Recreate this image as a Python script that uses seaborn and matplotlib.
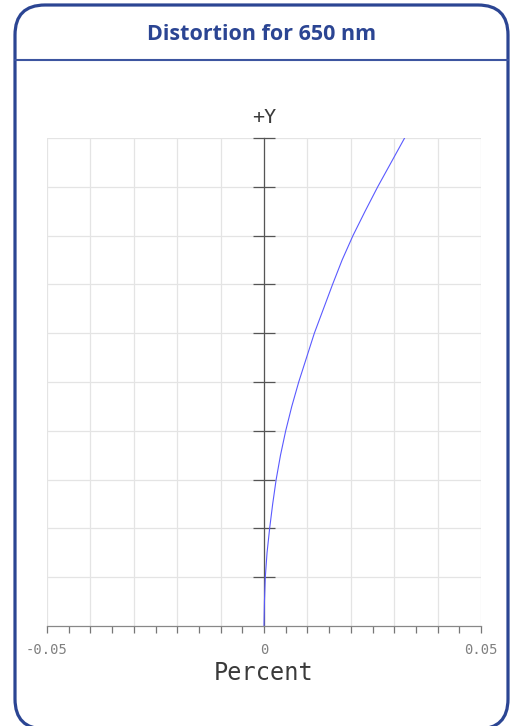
import numpy as np
import pandas as pd
import matplotlib
matplotlib.use("Agg")
import matplotlib.pyplot as plt
import seaborn as sns
from matplotlib.patches import FancyBboxPatch

# 650 nm 왜곡 곡선
field = [0.0, 0.05, 0.1, 0.15, 0.2, 0.25, 0.3, 0.35, 0.4, 0.45, 0.5, 0.55,
         0.6, 0.65, 0.7, 0.75, 0.8, 0.85, 0.9, 0.95, 1.0]
distortion = [0.0, 0.0001, 0.0003, 0.0007, 0.0013, 0.0020, 0.0028, 0.0038,
              0.0050, 0.0064, 0.0080, 0.0098, 0.0116, 0.0137, 0.0158, 0.0180,
              0.0205, 0.0233, 0.0262, 0.0293, 0.0324]

x_major = [-0.05, -0.04, -0.03, -0.02, -0.01, 0.0, 0.01, 0.02, 0.03, 0.04, 0.05]
x_labels = ['-0.05', '', '', '', '', '0', '', '', '', '', '0.05']
x_minor = [-0.045, -0.035, -0.025, -0.015, -0.005, 0.005, 0.015, 0.025, 0.035, 0.045]
y_major = [0.1, 0.2, 0.3, 0.4, 0.5, 0.6, 0.7, 0.8, 0.9, 1.0]

title = 'Distortion for 650 nm'
blue = '#2b4593'
mono = ['DejaVu Sans Mono']

df = pd.DataFrame({'distortion': distortion, 'field': field})

sns.set_style('white')
fig = plt.figure(figsize=(5.14, 7.26), dpi=100)

# 테두리 + 제목 (픽셀 좌표, 아래가 0)
bg = fig.add_axes([0, 0, 1, 1])
bg.set_xlim(0, 514)
bg.set_ylim(0, 726)
bg.axis('off')
bg.add_patch(FancyBboxPatch((15, -3), 493, 724, boxstyle='round,pad=0,rounding_size=30',
                            fill=False, edgecolor=blue, linewidth=2.3, clip_on=False))
bg.plot([15, 508], [666, 666], color='#3d55a0', linewidth=1.5)
bg.text(261.5, 692, title, ha='center', va='center', color=blue,
        fontsize=15.5, fontweight='bold', family=['Open Sans', 'DejaVu Sans'])

# 그래프
ax = fig.add_axes([47 / 514, 1 - 626 / 726, 434 / 514, 488 / 726])
sns.lineplot(data=df, x='distortion', y='field', sort=False, estimator=None,
             color='#5a5aff', linewidth=0.8, ax=ax)
ax.set_xlim(-0.05, 0.05)
ax.set_ylim(0, 1)

ax.set_xticks(x_major)
ax.set_xticklabels(x_labels)
ax.set_xticks(x_minor, minor=True)
ax.set_yticks(y_major)
ax.set_yticklabels([])

ax.grid(True, which='major', color='#e4e4e4', linewidth=0.9)
for s in ['top', 'right']:
    ax.spines[s].set_visible(False)
ax.spines['bottom'].set_color('#888888')
ax.spines['bottom'].set_linewidth(0.9)
ax.spines['left'].set_position(('data', 0))
ax.spines['left'].set_color('#555555')
ax.spines['left'].set_linewidth(0.9)
ax.spines['left'].set_zorder(1)

ax.tick_params(axis='x', which='both', direction='out', length=5, width=0.9,
               color='#777777', pad=7, labelsize=10, labelcolor='#808080',
               bottom=True)
ax.tick_params(axis='y', which='major', direction='inout', length=15.8, width=0.9,
               color='#555555', left=True)
for lb in ax.get_xticklabels():
    lb.set_family(mono)

ax.set_xlabel('Percent', fontsize=17, color='#3a3a3a', family=mono)
ax.xaxis.set_label_coords(0.5, -0.097)
ax.xaxis.label.set_va('center')
ax.set_ylabel('')

ax.annotate('+Y', xy=(0, 1), xycoords=('data', 'axes fraction'),
            xytext=(0, 15), textcoords='offset points', ha='center', va='center',
            fontsize=14.5, color='#3a3a3a', family=mono)

fig.savefig('out.png', dpi=100)
